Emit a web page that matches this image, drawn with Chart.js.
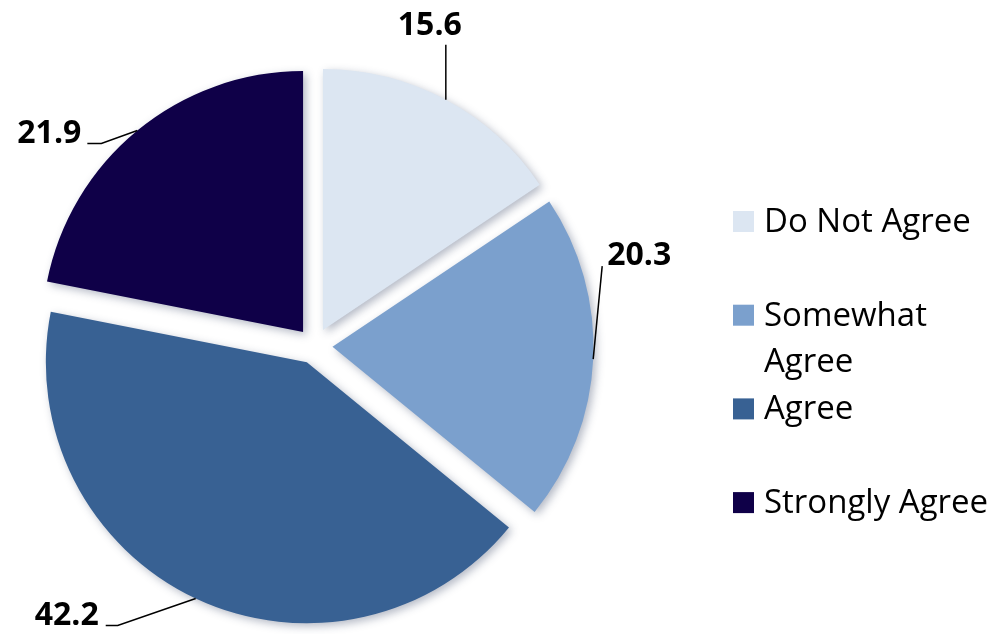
<!DOCTYPE html>
<html lang="en">
<head>
  <meta charset="UTF-8" />
  <title>Agreement</title>
  <script src="https://cdn.jsdelivr.net/npm/chart.js"></script>
  <style>
    body {
      background-color: #ffffff;
      margin: 0;
      padding: 0;
      overflow: hidden;
    }
    canvas { display: block; }
  </style>
</head>
<body>
  <canvas id="chart" width="988" height="634"></canvas>

  <script>
    const categories = ['Do Not Agree', 'Somewhat Agree', 'Agree', 'Strongly Agree'];
    const values = [15.6, 20.3, 42.2, 21.9];
    const valueLabels = ['15.6', '20.3', '42.2', '21.9'];
    const colors = ['#dce6f2', '#7ba0cd', '#386193', '#0f0048'];

    // leader line + label placement, relative to the outer mid-point of each slice
    const labelSpots = [
      { pts: [[0, -55]], text: [-16, -65], align: 'center' },
      { pts: [[9, -93]], text: [14, -94], align: 'left' },
      { pts: [[-78, 27], [-90, 27]], text: [-97, 27], align: 'right' },
      { pts: [[-36, 13], [-50, 13]], text: [-56, 13], align: 'right' }
    ];

    const EXPLODE = 18;

    function midOf(el) {
      return (el.startAngle + el.endAngle) / 2;
    }

    // draw every slice pushed out along its bisector, with a soft shadow
    const explodePlugin = {
      id: 'explode',
      beforeDatasetDraw(chart, args) {
        const ctx = chart.ctx;
        const meta = args.meta;
        meta.data.forEach(el => {
          const a = midOf(el);
          ctx.save();
          ctx.translate(Math.cos(a) * EXPLODE, Math.sin(a) * EXPLODE);
          ctx.shadowColor = 'rgba(40, 55, 90, 0.35)';
          ctx.shadowBlur = 8;
          ctx.shadowOffsetX = 3;
          ctx.shadowOffsetY = 3;
          el.draw(ctx, chart.chartArea);
          ctx.restore();
        });
        return false;
      },
      afterDatasetsDraw(chart) {
        const ctx = chart.ctx;
        const meta = chart.getDatasetMeta(0);
        ctx.save();
        ctx.strokeStyle = '#000';
        ctx.lineWidth = 1.5;
        ctx.fillStyle = '#000';
        ctx.font = 'bold 32px "Open Sans"';
        ctx.textBaseline = 'alphabetic';
        meta.data.forEach((el, i) => {
          const a = midOf(el);
          const r = el.outerRadius + EXPLODE;
          const ax = el.x + Math.cos(a) * r;
          const ay = el.y + Math.sin(a) * r;
          const spot = labelSpots[i];
          ctx.beginPath();
          ctx.moveTo(ax, ay);
          spot.pts.forEach(p => ctx.lineTo(ax + p[0], ay + p[1]));
          ctx.stroke();
          ctx.textAlign = spot.align;
          ctx.fillText(valueLabels[i], ax + spot.text[0], ay + spot.text[1]);
        });
        ctx.restore();
      }
    };

    // legend on the right, wrapped like the original
    const sideLegend = {
      id: 'sideLegend',
      afterDraw(chart) {
        const ctx = chart.ctx;
        const left = 733, top = 211, step = 93.7, box = 21;
        const textX = 764, maxW = 232, lineH = 46;
        ctx.save();
        ctx.font = '33px "Open Sans"';
        ctx.textBaseline = 'alphabetic';
        ctx.textAlign = 'left';
        categories.forEach((name, i) => {
          const y = top + i * step;
          ctx.fillStyle = colors[i];
          ctx.fillRect(left, y, box, box);
          const words = name.split(' ');
          const lines = [];
          let cur = '';
          words.forEach(w => {
            const test = cur ? cur + ' ' + w : w;
            if (cur && ctx.measureText(test).width > maxW) {
              lines.push(cur);
              cur = w;
            } else {
              cur = test;
            }
          });
          lines.push(cur);
          ctx.fillStyle = '#000';
          lines.forEach((ln, k) => ctx.fillText(ln, textX, y + box + k * lineH));
        });
        ctx.restore();
      }
    };

    const ctx = document.getElementById('chart').getContext('2d');
    const chart = new Chart(ctx, {
      type: 'pie',
      data: {
        labels: categories,
        datasets: [{
          data: values,
          backgroundColor: colors,
          borderWidth: 0
        }]
      },
      options: {
        responsive: false,
        animation: false,
        radius: 261,
        layout: { padding: { left: 0, right: 359, top: 58, bottom: 0 } },
        plugins: {
          legend: { display: false },
          tooltip: { enabled: false }
        }
      },
      plugins: [explodePlugin, sideLegend]
    });
  </script>
</body>
</html>
